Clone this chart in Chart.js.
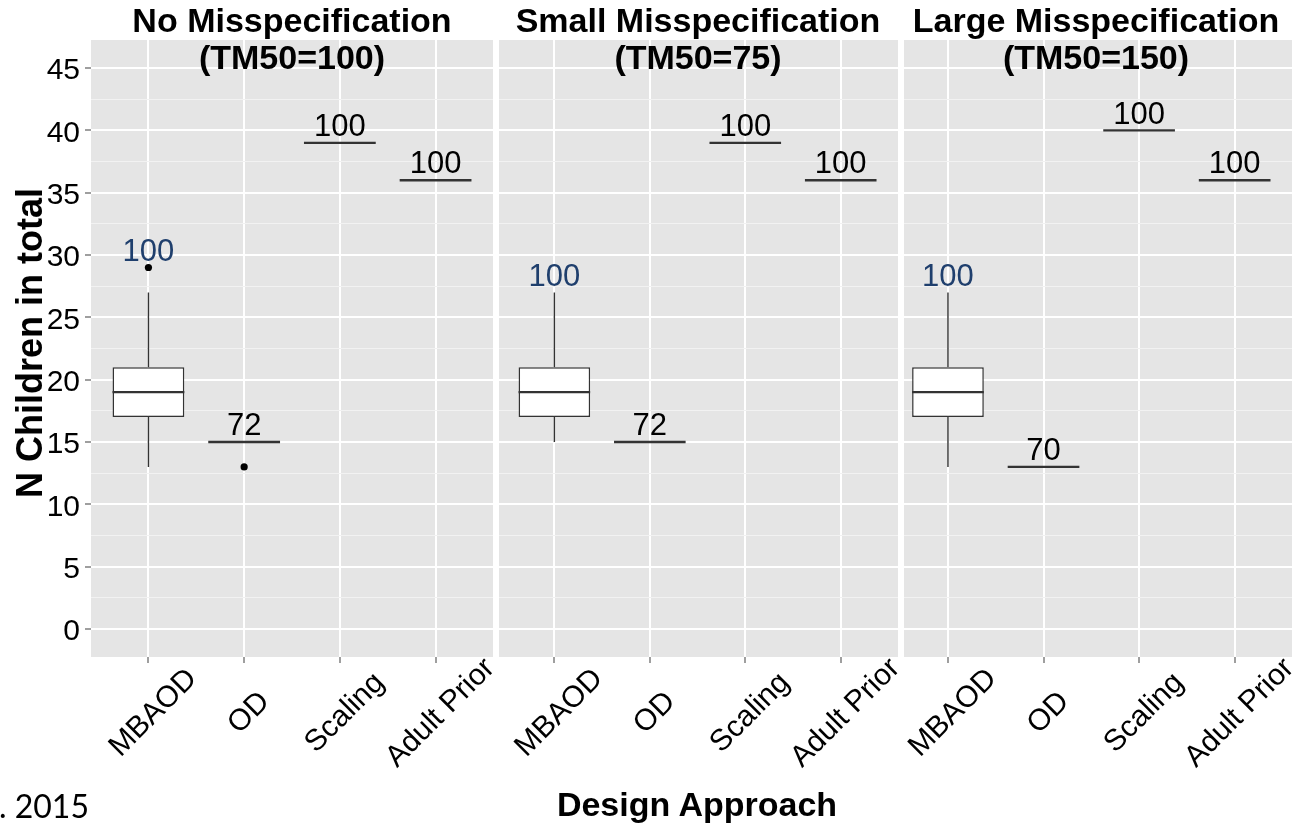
<!DOCTYPE html>
<html>
<head>
<meta charset="utf-8">
<title>N Children in total by Design Approach</title>
<script src="https://cdn.jsdelivr.net/npm/chart.js@4.4.1/dist/chart.umd.min.js"></script>
<style>
  html, body { margin: 0; padding: 0; background: #fff; }
  #wrap {
    position: relative; width: 1294px; height: 823px; overflow: hidden;
    font-family: "Liberation Sans", Arial, Helvetica, sans-serif; color: #000;
  }
  #wrap canvas { position: absolute; top: 0; }
  .ptitle {
    position: absolute; top: 2px; width: 500px; margin-left: -250px;
    font-weight: bold; font-size: 34px; line-height: 37px;
    text-align: center; white-space: nowrap;
  }
  #ytitle {
    position: absolute; left: 30px; top: 343px; white-space: nowrap;
    font-weight: bold; font-size: 36px; line-height: 40px;
    transform: translate(-50%, -50%) rotate(-90deg);
  }
  #xtitle {
    position: absolute; left: 697px; top: 785px; white-space: nowrap;
    font-weight: bold; font-size: 34px; line-height: 38px;
    transform: translateX(-50%);
  }
  #source {
    position: absolute; left: -1px; top: 787px; white-space: nowrap;
    font-family: Lato, "Open Sans", sans-serif; font-size: 32px; line-height: 37px;
  }
</style>
</head>
<body>
<div id="wrap">
  <canvas id="panel1" width="560" height="823" style="left:0px"></canvas>
  <canvas id="panel2" width="520" height="823" style="left:440px"></canvas>
  <canvas id="panel3" width="454" height="823" style="left:840px"></canvas>

  <div class="ptitle" style="left:292px">No Misspecification<br>(TM50=100)</div>
  <div class="ptitle" style="left:698px">Small Misspecification<br>(TM50=75)</div>
  <div class="ptitle" style="left:1096px">Large Misspecification<br>(TM50=150)</div>

  <div id="ytitle">N Children in total</div>
  <div id="xtitle">Design Approach</div>
  <div id="source">. 2015</div>
</div>

<script>
// Design approaches on the x axis
const designs = ['MBAOD', 'OD', 'Scaling', 'Adult Prior'];
const designPos = [1, 2, 3, 4];

// Box stats per design: [lower whisker, Q1, median, Q3, upper whisker]
const statsNoMis = [[13, 17, 19, 21, 27], [15, 15, 15, 15, 15], [39, 39, 39, 39, 39], [36, 36, 36, 36, 36]];
const statsSmallMis = [[15, 17, 19, 21, 27], [15, 15, 15, 15, 15], [39, 39, 39, 39, 39], [36, 36, 36, 36, 36]];
const statsLargeMis = [[13, 17, 19, 21, 27], [13, 13, 13, 13, 13], [40, 40, 40, 40, 40], [36, 36, 36, 36, 36]];

// Outlying points per design
const outliersNoMis = [[29], [13], [], []];
const outliersSmallMis = [[], [], [], []];
const outliersLargeMis = [[], [], [], []];

// Number of runs shown above each box
const countsNoMis = [100, 72, 100, 100];
const countsSmallMis = [100, 72, 100, 100];
const countsLargeMis = [100, 70, 100, 100];
const countColors = ['#1f3f6d', '#000000', '#000000', '#000000'];

// Y axis grid
const yMajorTicks = [0, 5, 10, 15, 20, 25, 30, 35, 40, 45];
const yMinorTicks = [2.5, 7.5, 12.5, 17.5, 22.5, 27.5, 32.5, 37.5, 42.5];
const yGrid = yMajorTicks.concat(yMinorTicks).sort((a, b) => a - b);

// Panel placement (pixels)
const panels = [
    { id: 'panel1', left: 0, width: 560, plotLeft: 91, plotRight: 493, xMin: 0.4,
      stats: statsNoMis, outliers: outliersNoMis, counts: countsNoMis, showY: true },
    { id: 'panel2', left: 440, width: 520, plotLeft: 499, plotRight: 898, xMin: 0.42,
      stats: statsSmallMis, outliers: outliersSmallMis, counts: countsSmallMis, showY: false },
    { id: 'panel3', left: 840, width: 454, plotLeft: 904, plotRight: 1292, xMin: 0.54,
      stats: statsLargeMis, outliers: outliersLargeMis, counts: countsLargeMis, showY: false }
];

const plotTop = 40;
const plotBottom = 657;
const lineColor = '#333333';
const boxHalf = 0.375;

// Draws panel background, whiskers, medians, counts and rotated labels
const boxplotPlugin = {
    id: 'boxplot',
    beforeDraw(chart) {
        const a = chart.chartArea;
        const ctx = chart.ctx;
        ctx.save();
        ctx.fillStyle = '#e5e5e5';
        ctx.fillRect(a.left, a.top, a.right - a.left, a.bottom - a.top);
        ctx.restore();
    },
    beforeDatasetsDraw(chart, args, opts) {
        const x = chart.scales.x, y = chart.scales.y;
        const ctx = chart.ctx;
        ctx.save();
        ctx.strokeStyle = lineColor;
        ctx.lineWidth = 1.4;
        opts.stats.forEach((s, i) => {
            const px = x.getPixelForValue(designPos[i]);
            ctx.beginPath();
            ctx.moveTo(px, y.getPixelForValue(s[0]));
            ctx.lineTo(px, y.getPixelForValue(s[1]));
            ctx.moveTo(px, y.getPixelForValue(s[3]));
            ctx.lineTo(px, y.getPixelForValue(s[4]));
            ctx.stroke();
        });
        ctx.restore();
    },
    afterDatasetsDraw(chart, args, opts) {
        const x = chart.scales.x, y = chart.scales.y;
        const ctx = chart.ctx;
        ctx.save();
        // medians
        ctx.strokeStyle = lineColor;
        ctx.lineWidth = 2.4;
        opts.stats.forEach((s, i) => {
            const py = y.getPixelForValue(s[2]);
            ctx.beginPath();
            ctx.moveTo(x.getPixelForValue(designPos[i] - boxHalf), py);
            ctx.lineTo(x.getPixelForValue(designPos[i] + boxHalf), py);
            ctx.stroke();
        });
        // counts above the highest value
        ctx.font = '31px "Liberation Sans", Arial, sans-serif';
        ctx.textAlign = 'center';
        ctx.textBaseline = 'alphabetic';
        opts.counts.forEach((n, i) => {
            const top = Math.max(opts.stats[i][4], ...opts.outliers[i]);
            ctx.fillStyle = countColors[i];
            ctx.fillText(String(n), x.getPixelForValue(designPos[i]), y.getPixelForValue(top + 0.55));
        });
        ctx.restore();
    },
    afterDraw(chart) {
        const x = chart.scales.x;
        const ctx = chart.ctx;
        ctx.save();
        ctx.font = '30px "Liberation Sans", Arial, sans-serif';
        ctx.fillStyle = '#000';
        ctx.textAlign = 'center';
        ctx.textBaseline = 'middle';
        designs.forEach((d, i) => {
            ctx.save();
            ctx.translate(x.getPixelForValue(designPos[i]) + 5, chart.chartArea.bottom + 56);
            ctx.rotate(-Math.PI / 4);
            ctx.fillText(d, 0, 0);
            ctx.restore();
        });
        ctx.restore();
    }
};

function renderPanel(p) {
    const ctx = document.getElementById(p.id).getContext('2d');

    const boxData = p.stats.map((s, i) => ({ x: designPos[i], y: [s[1], s[3]] }));
    const outlierData = [];
    p.outliers.forEach((vals, i) => vals.forEach(v => outlierData.push({ x: designPos[i], y: v })));

    return new Chart(ctx, {
        type: 'bar',
        data: {
            datasets: [{
                label: 'box',
                data: boxData,
                backgroundColor: '#ffffff',
                borderColor: lineColor,
                borderWidth: 1.5,
                borderSkipped: false,
                categoryPercentage: 0.75,
                barPercentage: 1
            }, {
                type: 'scatter',
                label: 'outliers',
                data: outlierData,
                pointRadius: 3.6,
                pointBackgroundColor: '#000',
                pointBorderWidth: 0
            }]
        },
        options: {
            responsive: false,
            devicePixelRatio: 1,
            animation: false,
            events: [],
            layout: {
                padding: {
                    left: p.showY ? 0 : p.plotLeft - p.left,
                    right: p.left + p.width - p.plotRight,
                    top: plotTop,
                    bottom: 0
                }
            },
            plugins: {
                legend: { display: false },
                tooltip: { enabled: false },
                boxplot: { stats: p.stats, outliers: p.outliers, counts: p.counts }
            },
            scales: {
                x: {
                    type: 'linear',
                    offset: false,
                    min: p.xMin,
                    max: 4.6,
                    bounds: 'data',
                    afterBuildTicks: s => { s.ticks = designPos.map(v => ({ value: v })); },
                    afterFit: s => { s.height = 823 - plotBottom; },
                    ticks: { display: false },
                    border: { display: false },
                    grid: {
                        offset: false,
                        color: '#ffffff',
                        lineWidth: 2,
                        tickLength: 6,
                        tickWidth: 1.5,
                        tickColor: '#7f7f7f'
                    }
                },
                y: {
                    type: 'linear',
                    min: -2.25,
                    max: 47.25,
                    bounds: 'data',
                    afterBuildTicks: s => { s.ticks = yGrid.map(v => ({ value: v })); },
                    afterFit: s => { s.width = p.showY ? p.plotLeft - p.left : 0; },
                    border: { display: false },
                    ticks: {
                        display: p.showY,
                        autoSkip: false,
                        padding: 5,
                        labelOffset: 3,
                        color: '#000',
                        font: { family: '"Liberation Sans", Arial, sans-serif', size: 30 },
                        callback: v => yMajorTicks.includes(v) ? String(v) : ''
                    },
                    grid: {
                        drawTicks: p.showY,
                        tickLength: 6,
                        tickWidth: 1.5,
                        color: c => yMajorTicks.includes(c.tick.value) ? '#ffffff' : '#f2f2f2',
                        lineWidth: c => yMajorTicks.includes(c.tick.value) ? 2 : 1,
                        tickColor: c => yMajorTicks.includes(c.tick.value) ? '#7f7f7f' : 'rgba(0,0,0,0)'
                    }
                }
            }
        },
        plugins: [boxplotPlugin]
    });
}

panels.forEach(renderPanel);
</script>
</body>
</html>
